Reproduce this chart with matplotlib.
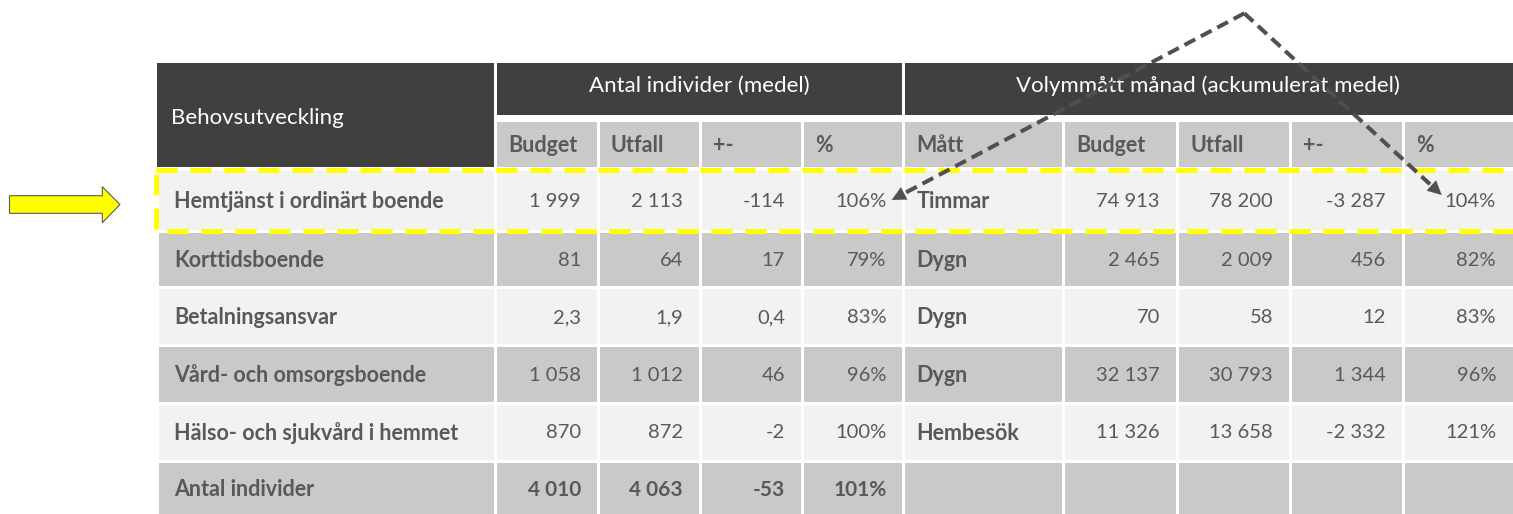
import matplotlib
matplotlib.use("Agg")
import matplotlib.pyplot as plt
from matplotlib.patches import Rectangle, Polygon

plt.rcParams['font.family'] = ['Lato', 'DejaVu Sans']

# table content
corner_title = "Behovsutveckling"
group_titles = ["Antal individer (medel)", "Volymmått månad (ackumulerat medel)"]
sub_headers = ["Budget", "Utfall", "+-", "%", "Mått", "Budget", "Utfall", "+-", "%"]

categories = ["Hemtjänst i ordinärt boende", "Korttidsboende", "Betalningsansvar",
              "Vård- och omsorgsboende", "Hälso- och sjukvård i hemmet", "Antal individer"]
ind_budget = [1999, 81, 2.3, 1058, 870, 4010]
ind_utfall = [2113, 64, 1.9, 1012, 872, 4063]
ind_diff = [-114, 17, 0.4, 46, -2, -53]
ind_pct = [106, 79, 83, 96, 100, 101]
units = ["Timmar", "Dygn", "Dygn", "Dygn", "Hembesök", ""]
vol_budget = [74913, 2465, 70, 32137, 11326, None]
vol_utfall = [78200, 2009, 58, 30793, 13658, None]
vol_diff = [-3287, 456, 12, 1344, -2332, None]
vol_pct = [104, 82, 83, 96, 121, None]

# layout (pixels)
col_edges = [157, 495.5, 598, 700, 802, 903.5, 1063, 1177, 1290, 1403, 1525]
row_edges = [169.5, 231, 287.5, 345.5, 403, 461, 519]
head_top, group_bot, sub_top = 63, 114.5, 122

DARK = "#404040"
GREY = "#c9c9c9"
LIGHT = "#f2f2f2"
TXT = "#595959"
FS_HEAD = 16
FS_LAB = 15.5
FS_NUM = 14.5


def fmt(v):
    if v is None:
        return ""
    if isinstance(v, float) and not float(v).is_integer():
        return f"{v:.1f}".replace(".", ",")
    s = f"{int(v):,}".replace(",", " ")
    return s


fig = plt.figure(figsize=(15.13, 5.14), dpi=100)
ax = fig.add_axes([0, 0, 1, 1])
ax.set_xlim(0, 1513)
ax.set_ylim(514, 0)
ax.axis("off")

g = 1.5  # half of white gap


def cell(x0, x1, y0, y1, color):
    ax.add_patch(Rectangle((x0 + g, y0 + g), x1 - x0 - 2 * g, y1 - y0 - 2 * g,
                           facecolor=color, edgecolor="none", zorder=1))


# header
ax.add_patch(Rectangle((col_edges[0], head_top), col_edges[1] - g - col_edges[0], 167 - head_top,
                       facecolor=DARK, edgecolor="none", zorder=1))
ax.text(col_edges[0] + 14, 118, corner_title, color="white", fontsize=FS_HEAD, va="center", ha="left")

groups = [(1, 5), (5, 10)]
for (a, b), title in zip(groups, group_titles):
    x0, x1 = col_edges[a], col_edges[b]
    ax.add_patch(Rectangle((x0 + g, head_top), x1 - x0 - 2 * g, group_bot - head_top,
                           facecolor=DARK, edgecolor="none", zorder=1))
    ax.text((x0 + x1 - (12 if b == 10 else 0)) / 2, 86, title, color="white", fontsize=FS_HEAD,
            va="center", ha="center")

for i, h in enumerate(sub_headers):
    x0, x1 = col_edges[i + 1], col_edges[i + 2]
    ax.add_patch(Rectangle((x0 + g, sub_top), x1 - x0 - 2 * g, 167 - sub_top,
                           facecolor=GREY, edgecolor="none", zorder=1))
    ax.text(x0 + 13, 146, h, color=TXT, fontsize=FS_LAB, fontweight="bold", va="center", ha="left")

# body
for r, cat in enumerate(categories):
    y0, y1 = row_edges[r], row_edges[r + 1]
    yc = (y0 + y1) / 2 + (1 if r < 5 else 0)
    color = LIGHT if r % 2 == 0 else GREY
    for c in range(10):
        cell(col_edges[c], col_edges[c + 1], y0, y1, color)
    ax.text(col_edges[0] + 17, yc, cat, color=TXT, fontsize=FS_LAB, fontweight="bold",
            va="center", ha="left")
    total = r == len(categories) - 1
    vals = [fmt(ind_budget[r]), fmt(ind_utfall[r]), fmt(ind_diff[r]), f"{ind_pct[r]}%"]
    for k, s in enumerate(vals):
        ax.text(col_edges[k + 2] - 17, yc, s, color=TXT, fontsize=FS_NUM + (0.5 if total else 0),
                fontweight="bold" if total else "normal", va="center", ha="right")
    ax.text(col_edges[5] + 13, yc, units[r], color=TXT, fontsize=FS_LAB, fontweight="bold",
            va="center", ha="left")
    vvals = [fmt(vol_budget[r]), fmt(vol_utfall[r]), fmt(vol_diff[r]),
             "" if vol_pct[r] is None else f"{vol_pct[r]}%"]
    for k, s in enumerate(vvals):
        right = col_edges[k + 7] if k < 3 else 1513
        ax.text(right - 17, yc, s, color=TXT, fontsize=FS_NUM, va="center", ha="right")

# yellow dashed highlight
ax.add_patch(Rectangle((155.5, 169.5), 1380, 61.5, facecolor="none", edgecolor="#ffff00",
                       linewidth=3.6, linestyle=(0, (4.2, 2.6)), zorder=3))

# yellow arrow
ax.add_patch(Polygon([(9.5, 195.7), (102.3, 195.7), (102.3, 186.7), (120, 204.5),
                      (102.3, 222.7), (102.3, 213.3), (9.5, 213.3)], closed=True,
                     facecolor="#ffff00", edgecolor="#595959", linewidth=0.8, zorder=3))

# dashed grey arrows
apex = (1244.3, 13.3)
ARR = "#505050"
for tip in [(891.7, 200), (1441.7, 195)]:
    dx, dy = tip[0] - apex[0], tip[1] - apex[1]
    L = (dx ** 2 + dy ** 2) ** 0.5
    ux, uy = dx / L, dy / L
    base = (tip[0] - ux * 16, tip[1] - uy * 16)
    ax.plot([apex[0], base[0]], [apex[1], base[1]], color=ARR, lw=2.9,
            linestyle=(0, (3, 1.6)), solid_capstyle="butt", zorder=4)
    ax.annotate("", xy=tip, xytext=(tip[0] - ux * 18, tip[1] - uy * 18),
                arrowprops=dict(arrowstyle="-|>,head_length=1.0,head_width=0.5",
                                color=ARR, lw=0.1, shrinkA=0, shrinkB=0), zorder=4)

fig.savefig("out.png", dpi=100)
